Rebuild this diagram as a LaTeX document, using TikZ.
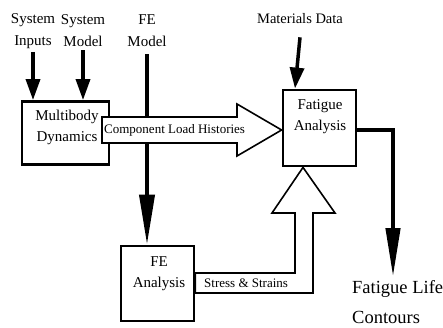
\documentclass[tikz,border=0pt]{standalone}
\usepackage{fontspec}
\setmainfont{Liberation Serif}
\usetikzlibrary{arrows.meta,calc}
\begin{document}
\begin{tikzpicture}[x=1pt,y=-1pt,
  lbl/.style={font=\fontsize{15}{22}\selectfont, align=center, inner sep=1pt},
  boxl/.style={font=\fontsize{15}{21}\selectfont, align=center, inner sep=0pt},
  box/.style={draw, line width=2.8pt, inner sep=0pt},
  flow/.style={line width=3.5pt, -{Triangle[length=21pt,width=14pt]}},
  longflow/.style={line width=4pt, -{Triangle[length=50pt,width=15pt]}},
  hollow/.style={draw, line width=1.6pt, fill=white, line join=miter},
  small/.style={font=\fontsize{13}{15}\selectfont, inner sep=0pt}]
\useasboundingbox (0,0) rectangle (443,327);

% top labels
\node[lbl] (si) at (33,31) {System\\Inputs};
\node[lbl] (sm) at (83,31) {System\\Model};
\node[lbl] (fem) at (147,31) {FE\\Model};
\node[lbl, font=\fontsize{14.5}{17}\selectfont] (md) at (300,19) {Materials Data};

% boxes
\node[box, minimum width=87pt, minimum height=63pt] (mb) at (65.5,133) {};
\node[boxl] (mbt) at (67,127.5) {Multibody\\Dynamics};
\node[box, minimum width=73pt, minimum height=76pt] (fa) at (319.5,128) {};
\node[boxl] (fat) at (320,117) {Fatigue\\Analysis};
\node[box, minimum width=73pt, minimum height=75pt] (fea) at (157.5,283.5) {};
\node[boxl] (feat) at (159,273.5) {FE\\Analysis};

% thin-line flows
\draw[flow] (si.south) ++(0,2) -- (si.south |- mb.north);
\draw[flow] (sm.south) ++(0,2) -- (sm.south |- mb.north);
\draw[flow] (md.south) ++(0,12) -- (295,0 |- fa.north);
\draw[longflow] (fem.south) ++(0,6) -- (fem.south |- fea.north);

% component load histories (hollow arrow)
\draw[hollow] (102,117) -- (237,117) -- (237,104) -- ($(fa.west)+(0,2)$) -- (237,156) -- (237,143) -- (102,143) -- cycle;
\node[small, anchor=west] (clh) at (104,130) {Component Load Histories};

% stress & strains (hollow L-arrow)
\draw[hollow] (fea.east |- 0,273) -- (295,273) -- (295,213) -- (272,213) -- (303,0 |- fa.south) -- (335,213) -- (313,213) -- (313,293) -- (fea.east |- 0,293) -- cycle;
\node[small, anchor=west] (ss) at (204,283) {Stress \& Strains};

% output
\node[font=\fontsize{18.5}{30}\selectfont, align=left, anchor=north west, inner sep=0pt] (flc) at (352,280) {Fatigue Life\\Contours};
\coordinate (out) at (393,277);
\draw[line width=4.5pt, line join=miter, -{Triangle[length=49pt,width=14pt]}] (fa.east |- 0,130) -| (out);
\end{tikzpicture}
\end{document}
